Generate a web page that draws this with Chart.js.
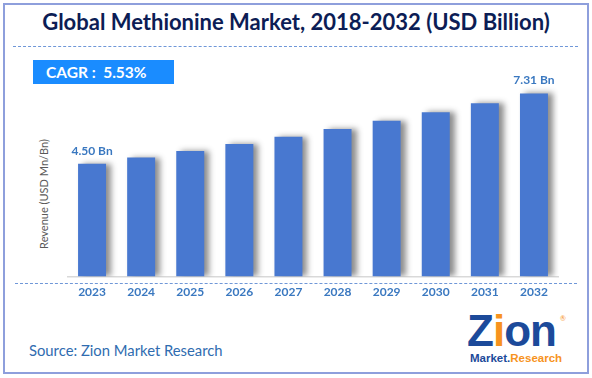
<!DOCTYPE html>
<html>
<head>
<meta charset="utf-8">
<script src="https://cdn.jsdelivr.net/npm/chart.js@4.4.1/dist/chart.umd.min.js"></script>
<style>
  html, body { margin:0; padding:0; background:#fff; }
  #wrap { position:relative; width:592px; height:378px; overflow:hidden; font-family: Lato, "Open Sans", sans-serif; }
  #frame { position:absolute; left:3px; top:3px; width:582px; height:367px; border:2px solid #8e9fdc; box-sizing:content-box; }
  #title { position:absolute; left:0; width:592px; top:7px; text-align:center; font-weight:bold; font-size:22px; color:#0c1d55; line-height:30px; }
  .dash { position:absolute; height:0; border-top:1px dashed #6f97d8; }
  #cagr { position:absolute; left:33px; top:60px; width:141px; height:24px; background:#1a8cff; color:#fff; font-weight:bold; font-size:15.5px; line-height:24px; box-sizing:border-box; padding-left:13px; }
  #ytitle { position:absolute; left:43px; top:194px; transform:translate(-50%,-50%) rotate(-90deg); font-size:11px; color:#595959; white-space:nowrap; font-family:Lato, sans-serif; }
  #source { position:absolute; left:29px; top:340px; font-size:14.8px; color:#2f6cb0; line-height:20px; }
  #logo { position:absolute; left:467px; top:312px; width:100px; height:54px; }
  #logo .zion { position:absolute; left:0; top:-3px; font-size:44px; font-weight:bold; color:#1c4a9a; letter-spacing:-1px; line-height:44px; font-family:"Liberation Sans", Arial, sans-serif; }
  #logo .zion .i { color:#f7931e; }
  #logo .mr { position:absolute; left:3px; top:39px; font-size:11.5px; font-weight:bold; line-height:14px; font-family:"Liberation Sans", Arial, sans-serif; }
  #logo .mr .m { color:#1c4a9a; }
  #logo .mr .r { color:#f7931e; }
  #logo .reg { position:absolute; left:93px; top:2px; font-size:7px; color:#f7931e; }
  canvas { position:absolute; left:0; top:0; }
</style>
</head>
<body>
<div id="wrap">
  <div id="frame"></div>
  <div id="title">Global Methionine Market, 2018-2032 (USD Billion)</div>
  <div class="dash" style="left:13px; top:46px; width:565px;"></div>
  <div class="dash" style="left:15px; top:283px; width:562px;"></div>
  <div id="cagr">CAGR :&nbsp; 5.53%</div>
  <div id="ytitle">Revenue (USD Mn/Bn)</div>
  <div id="source">Source: Zion Market Research</div>
  <div id="logo">
    <div class="zion">Z<span class="i">i</span>on</div>
    <div class="reg">®</div>
    <div class="mr"><span class="m">Market.</span><span class="r">Research</span></div>
  </div>
  <canvas id="c" width="592" height="378"></canvas>
</div>
<script>
const years = ["2023","2024","2025","2026","2027","2028","2029","2030","2031","2032"];
const revenue = [4.50, 4.75, 5.01, 5.29, 5.58, 5.89, 6.22, 6.56, 6.92, 7.31];
const valueLabels = ["4.50 Bn", "", "", "", "", "", "", "", "", "7.31 Bn"];
const yMax = 8;

const shadowPlugin = {
  id: 'barShadow',
  beforeDatasetsDraw(chart) {
    const ctx = chart.ctx;
    ctx.save();
    ctx.shadowColor = 'rgba(0,0,0,0.45)';
    ctx.shadowBlur = 6;
    ctx.shadowOffsetX = 5;
    ctx.shadowOffsetY = 0;
  },
  afterDatasetsDraw(chart) {
    chart.ctx.restore();
  }
};

const labelPlugin = {
  id: 'valueLabels',
  afterDraw(chart) {
    const ctx = chart.ctx;
    const meta = chart.getDatasetMeta(0);
    ctx.save();
    ctx.font = 'bold 12px Lato, "Open Sans", sans-serif';
    ctx.fillStyle = '#3a78c0';
    ctx.textAlign = 'center';
    ctx.textBaseline = 'middle';
    meta.data.forEach((bar, i) => {
      if (valueLabels[i]) ctx.fillText(valueLabels[i], bar.x, bar.y - 13);
    });
    ctx.restore();
  }
};

new Chart(document.getElementById('c'), {
  type: 'bar',
  data: {
    labels: years,
    datasets: [{
      data: revenue,
      backgroundColor: '#4878d0',
      borderWidth: 0,
      barPercentage: 0.57,
      categoryPercentage: 1.0
    }]
  },
  options: {
    responsive: false,
    animation: false,
    layout: { padding: { left: 67.5, right: 33.5, top: 76.2, bottom: 70.4 } },
    plugins: { legend: { display: false }, tooltip: { enabled: false }, title: { display: false } },
    scales: {
      x: {
        grid: { display: false, drawTicks: false },
        border: { display: true, color: '#d9d9d9', width: 1.5 },
        ticks: { color: '#3a78c0', font: { family: 'Lato, "Open Sans", sans-serif', size: 12, weight: 'bold' }, padding: 8.4 }
      },
      y: {
        display: false,
        min: 0,
        max: yMax
      }
    }
  },
  plugins: [shadowPlugin, labelPlugin]
});
</script>
</body>
</html>
